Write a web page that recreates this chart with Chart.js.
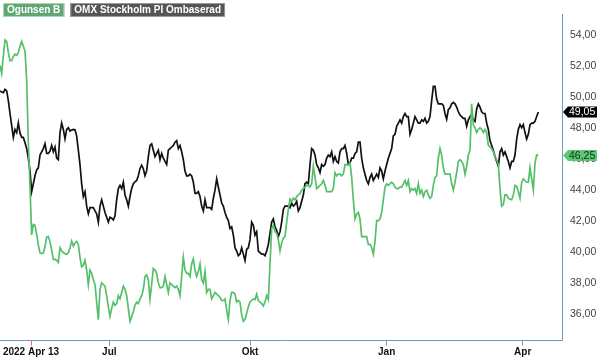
<!DOCTYPE html>
<html>
<head>
<meta charset="utf-8">
<script src="https://cdn.jsdelivr.net/npm/chart.js@4.4.1/dist/chart.umd.min.js"></script>
<style>
html,body{margin:0;padding:0;background:#fff;}
canvas{display:block;}
</style>
</head>
<body>
<canvas id="c" width="600" height="358"></canvas>
<script>
// Series names
const seriesNames = ["Ogunsen B", "OMX Stockholm PI Ombaserad"];

// OMX Stockholm PI (rebased) – sampled sessions
const omxValues = [
50.40,50.33,50.29,50.50,50.40,49.78,48.95,48.19,47.41,47.92,
47.72,48.34,47.68,47.41,47.41,47.06,46.69,46.07,45.25,43.91,
44.42,44.94,45.31,45.45,46.28,46.48,46.69,47.00,46.38,46.38,
46.52,46.89,46.48,46.79,46.07,45.97,47.72,48.34,47.92,47.31,
47.92,48.03,47.82,47.88,47.92,47.90,47.51,46.59,45.66,44.42,
43.60,43.91,42.98,42.49,42.88,42.88,42.88,42.67,42.49,41.95,
42.98,43.39,42.98,42.57,42.26,41.95,42.26,42.20,42.09,42.36,
43.39,44.11,44.32,44.11,44.52,43.70,43.39,42.98,43.60,44.11,
44.42,44.55,44.63,44.94,45.41,45.62,45.39,44.94,45.25,46.17,
46.89,46.99,46.58,46.17,46.38,46.58,45.97,46.38,46.07,45.86,
45.66,46.58,46.69,46.79,46.89,47.10,47.20,46.69,46.89,46.48,
45.97,45.24,44.93,44.93,45.04,44.93,44.52,43.80,43.80,43.91,
43.60,42.98,42.67,43.39,42.88,42.88,42.88,42.77,43.49,44.01,
44.73,44.21,43.70,43.18,42.98,42.57,42.26,42.05,41.54,41.64,
41.12,40.30,40.09,39.79,39.89,40.30,39.89,39.48,40.20,40.30,
40.82,41.95,41.74,41.12,41.33,40.09,39.99,39.89,39.89,39.79,
40.09,40.51,41.23,41.95,42.15,41.64,41.43,41.02,41.33,41.95,
42.77,42.98,42.98,42.98,42.88,43.18,42.98,43.08,43.29,42.67,
42.88,43.29,43.70,44.42,44.52,44.42,45.66,46.69,46.58,46.27,
45.66,45.45,45.14,45.66,45.55,45.66,46.07,46.27,46.17,46.48,
45.86,46.17,45.86,45.76,46.48,46.69,46.69,46.89,46.38,45.66,
45.76,46.07,46.07,46.38,46.48,47.10,47.10,46.07,45.45,45.04,
44.63,44.42,44.83,45.04,44.63,44.83,45.04,44.83,45.45,45.24,
44.73,45.24,45.66,46.07,46.38,46.69,47.51,47.61,48.13,48.33,
48.54,48.33,48.75,48.95,48.75,48.75,47.61,47.92,48.33,48.75,
48.54,48.33,48.33,48.54,48.44,48.64,48.33,48.44,48.75,49.78,
50.70,50.70,49.88,49.57,
49.57,49.57,49.47,48.95,48.58,49.20,49.32,49.57,49.67,49.57,
49.36,49.06,48.85,48.75,48.64,48.64,48.13,48.54,48.75,48.85,
48.54,48.44,49.26,49.57,49.36,49.06,48.95,48.95,48.33,47.92,
47.20,46.89,46.58,46.17,45.86,45.55,46.48,46.69,46.27,46.48,
46.17,45.86,45.45,45.86,45.86,46.27,47.30,47.92,48.23,48.03,
48.23,47.72,47.30,47.61,48.23,48.33,48.33,48.44,48.75,49.05
];

// Ogunsen B – sampled sessions
const ogunsenValues = [
52.04,51.53,52.66,53.69,53.59,52.87,52.35,52.35,52.62,52.77,
52.70,52.87,53.28,53.59,53.28,52.97,51.12,47.10,44.22,41.13,
41.79,41.74,41.17,40.47,39.97,39.93,39.97,40.36,40.98,41.02,
40.69,40.14,39.54,39.56,39.48,39.35,40.30,40.10,39.99,39.91,
39.87,39.99,40.30,40.73,40.41,40.61,40.71,40.51,39.68,39.07,
39.17,39.48,38.86,37.93,38.86,38.65,38.24,37.93,36.80,35.67,
37.62,38.04,37.93,37.83,37.21,36.49,35.87,36.39,36.80,36.59,
36.70,37.21,37.01,37.42,37.83,37.62,37.21,36.39,35.56,35.87,
36.18,36.59,36.80,36.70,37.01,37.21,37.62,38.45,38.55,38.24,
37.00,37.93,38.96,38.86,38.65,38.03,37.73,37.73,37.83,38.45,
37.93,37.42,38.03,37.93,37.83,37.73,37.83,37.62,37.21,38.45,
39.68,38.86,38.65,38.65,38.45,39.27,39.58,38.86,38.45,38.76,
39.27,38.24,38.03,38.76,37.42,37.62,37.62,37.00,37.21,37.42,
37.31,37.21,37.11,36.90,36.90,37.00,36.28,35.67,36.90,37.42,
37.42,37.31,36.80,36.90,36.80,35.97,35.56,35.67,36.08,36.49,
36.80,36.90,37.00,36.96,37.31,36.90,36.80,36.70,36.55,36.80,
37.21,36.96,39.27,41.54,41.74,41.33,41.23,40.82,40.09,40.61,
40.92,41.02,41.95,42.77,43.43,43.29,43.49,43.39,43.60,43.70,
43.80,44.01,44.11,44.21,44.32,44.32,44.21,44.42,45.55,44.83,
44.11,44.21,44.32,44.42,44.63,44.32,43.91,43.91,43.91,43.91,
44.11,45.14,44.93,45.04,45.04,44.93,45.04,45.66,45.66,45.66,
45.76,44.83,43.39,42.15,42.46,42.57,42.15,41.02,41.02,41.02,
41.02,40.51,40.51,40.30,39.89,40.71,42.05,42.05,42.15,42.57,
43.39,44.21,44.42,44.32,44.42,44.52,44.42,44.21,44.11,44.11,
44.21,44.21,44.42,44.63,44.32,44.63,43.91,44.11,44.01,44.11,
43.80,44.42,43.80,44.01,43.60,43.91,44.01,43.70,43.49,43.60,
44.32,44.83,44.93,46.07,
46.69,46.27,45.45,45.04,45.04,45.04,45.04,44.42,44.01,44.52,
45.14,45.86,45.97,45.86,45.66,45.04,45.55,46.27,46.58,49.57,
48.23,48.03,47.72,47.92,48.03,47.92,47.72,47.92,47.72,46.89,
46.79,46.69,46.48,46.17,45.97,45.66,44.11,42.98,43.08,43.70,
43.70,43.49,43.43,43.39,43.70,44.32,44.26,43.91,43.49,44.52,
44.73,44.63,44.52,44.52,45.45,44.73,44.01,45.76,46.27,46.25
];

// x-axis: session-index positions of the date labels
const xTickLabels = ["2022 Apr 13", "Jul", "Okt", "Jan", "Apr"];
const xTickPositions = [18.6, 65.6, 150, 232, 313.6];
const xMax = 337.2;

// y-axis tick labels
const yTickValues = [36, 38, 40, 42, 44, 46, 48, 50, 52, 54];
const yMin = 34.31, yMax = 55.34;

const FONT = '"Liberation Sans", Arial, Helvetica, sans-serif';
const GREEN = '#55c06a';
const BLACK = '#111111';
const AXIS = '#6f9bbd';

const fmt = v => v.toFixed(2).replace('.', ',');

const toPoints = arr => arr.map((v, i) => ({x: i, y: v}));

const legendPlugin = {
  id: 'boxLegend',
  afterDraw(chart) {
    const ctx = chart.ctx;
    ctx.save();
    ctx.font = 'bold 10px ' + FONT;
    ctx.textBaseline = 'middle';
    ctx.textAlign = 'left';
    const items = [
      {text: seriesNames[0], fill: '#62a673', stroke: '#a9d6b3'},
      {text: seriesNames[1], fill: '#555555', stroke: '#9a9a9a'}
    ];
    let x = 3;
    items.forEach(it => {
      const w = ctx.measureText(it.text).width + 8;
      ctx.fillStyle = it.fill;
      ctx.fillRect(x, 3, w, 14);
      ctx.strokeStyle = it.stroke;
      ctx.lineWidth = 1;
      ctx.strokeRect(x + 0.5, 3.5, w - 1, 13);
      ctx.fillStyle = '#ffffff';
      ctx.fillText(it.text, x + 4, 10.5);
      x += w + 6;
    });
    ctx.restore();
  }
};

const tagPlugin = {
  id: 'lastTags',
  afterDraw(chart) {
    const ctx = chart.ctx, ys = chart.scales.y, area = chart.chartArea;
    const styles = [{fill: '#5cc872', text: '#10301a'}, {fill: '#000000', text: '#ffffff'}];
    ctx.save();
    chart.data.datasets.forEach((ds, k) => {
      const last = ds.data[ds.data.length - 1].y;
      const py = ys.getPixelForValue(last);
      const x0 = area.right + 1, h = 11, w = 34;
      ctx.beginPath();
      ctx.moveTo(x0, py);
      ctx.lineTo(x0 + 5, py - h / 2);
      ctx.lineTo(x0 + w, py - h / 2);
      ctx.lineTo(x0 + w, py + h / 2);
      ctx.lineTo(x0 + 5, py + h / 2);
      ctx.closePath();
      ctx.fillStyle = styles[k].fill;
      ctx.fill();
      ctx.fillStyle = styles[k].text;
      ctx.font = '10.5px ' + FONT;
      ctx.textBaseline = 'middle';
      ctx.textAlign = 'left';
      ctx.fillText(fmt(last), x0 + 6, py + 0.5);
    });
    ctx.restore();
  }
};

new Chart(document.getElementById('c'), {
  type: 'line',
  data: {
    datasets: [
      {label: seriesNames[0], data: toPoints(ogunsenValues), borderColor: GREEN, borderWidth: 1.7},
      {label: seriesNames[1], data: toPoints(omxValues), borderColor: BLACK, borderWidth: 1.7}
    ]
  },
  options: {
    responsive: false,
    devicePixelRatio: 1,
    animation: false,
    layout: {padding: 0},
    elements: {point: {radius: 0}, line: {tension: 0}},
    plugins: {legend: {display: false}, tooltip: {enabled: false}},
    scales: {
      x: {
        type: 'linear',
        position: 'bottom',
        min: 0,
        max: xMax,
        afterBuildTicks: s => { s.ticks = xTickPositions.map(v => ({value: v})); },
        afterFit: s => { s.height = 17.3; },
        grid: {
          display: true,
          drawOnChartArea: false,
          drawTicks: true,
          tickLength: 5,
          color: c => c.index === 0 ? '#e36a6a' : AXIS,
          tickColor: c => c.index === 0 ? '#e36a6a' : AXIS
        },
        border: {display: true, color: AXIS, width: 1},
        ticks: {
          autoSkip: false,
          maxRotation: 0,
          padding: 1,
          color: '#111111',
          font: {family: FONT, size: 10, weight: 'bold'},
          callback: (v, i) => xTickLabels[i]
        }
      },
      y: {
        type: 'linear',
        position: 'right',
        min: yMin,
        max: yMax,
        afterBuildTicks: s => { s.ticks = yTickValues.map(v => ({value: v})); },
        afterFit: s => { s.width = 38; },
        grid: {display: true, drawOnChartArea: false, drawTicks: false},
        border: {display: true, color: AXIS, width: 1},
        ticks: {
          padding: 8,
          color: '#444444',
          font: {family: FONT, size: 10.5},
          callback: v => fmt(v)
        }
      }
    }
  },
  plugins: [legendPlugin, tagPlugin]
});
</script>
</body>
</html>
